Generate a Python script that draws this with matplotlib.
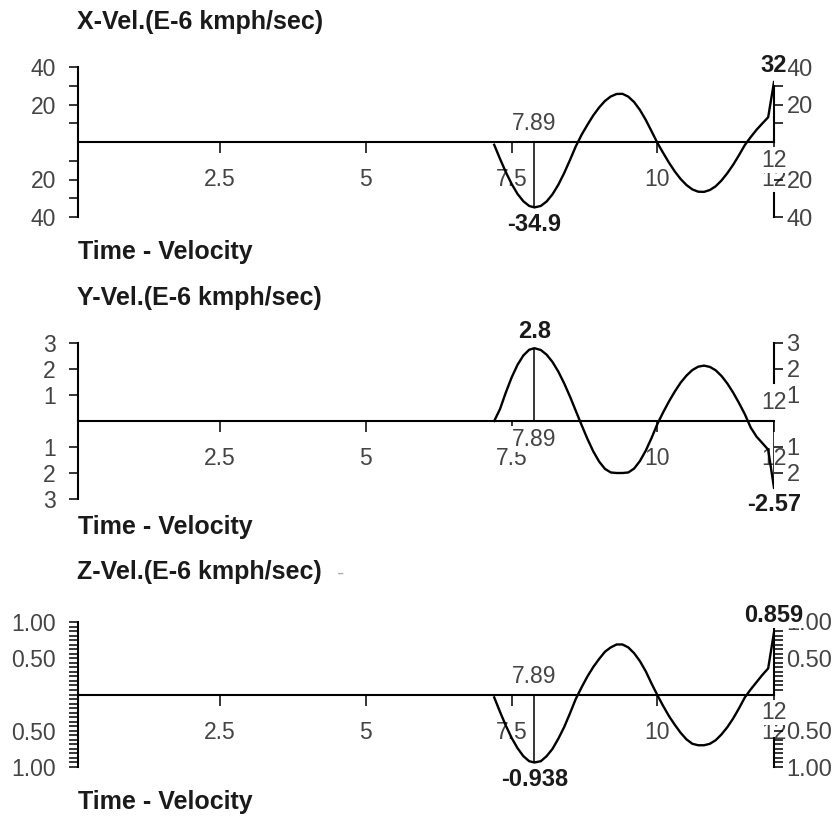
import numpy as np
import matplotlib
matplotlib.use("Agg")
import matplotlib.pyplot as plt
from matplotlib.ticker import FixedLocator

plt.rcParams['font.family'] = ['Liberation Sans', 'DejaVu Sans']

# values (time in s, velocity in E-6 kmph/sec)
TIME = [7.2, 7.3, 7.4, 7.5, 7.6, 7.7, 7.8, 7.89,
        8.0, 8.1, 8.2, 8.3, 8.4, 8.5, 8.6, 8.7, 8.8, 8.9,
        9.0, 9.1, 9.2, 9.3, 9.4, 9.5, 9.6, 9.7, 9.8, 9.9,
        10.0, 10.1, 10.2, 10.3, 10.4, 10.5, 10.6, 10.7, 10.8, 10.9,
        11.0, 11.1, 11.2, 11.3, 11.4, 11.5, 11.6, 11.7, 11.8, 11.9, 12.0]

X_VEL = [-1.5, -9.0, -16.1, -22.4, -27.7, -31.6, -34.1, -34.9,
         -34.1, -31.7, -27.9, -22.8, -16.6, -9.6, -2.3, 3.9, 9.2, 14.2,
         18.4, 21.9, 24.3, 25.6, 25.7, 24.2, 21.3, 17.1, 11.8, 5.7,
         -0.5, -5.9, -11.1, -15.8, -19.8, -23.0, -25.3, -26.5, -26.6, -25.6,
         -23.6, -20.5, -16.6, -12.1, -7.0, -1.6, 2.6, 6.5, 9.9, 13.2, 32.0]

Y_VEL = [0.0, 0.46, 1.10, 1.68, 2.16, 2.52, 2.74, 2.8,
         2.73, 2.55, 2.27, 1.90, 1.45, 0.94, 0.39, -0.16, -0.69, -1.17,
         -1.56, -1.84, -1.98, -2.0, -2.0, -1.98, -1.83, -1.54, -1.14, -0.65,
         -0.11, 0.34, 0.76, 1.14, 1.48, 1.75, 1.96, 2.09, 2.13, 2.08,
         1.95, 1.73, 1.44, 1.09, 0.69, 0.26, -0.25, -0.6, -0.85, -1.1, -2.57]

Z_VEL = [-0.04, -0.24, -0.43, -0.60, -0.74, -0.85, -0.92, -0.938,
         -0.92, -0.85, -0.75, -0.61, -0.45, -0.26, -0.06, 0.10, 0.25, 0.38,
         0.49, 0.59, 0.65, 0.69, 0.69, 0.65, 0.57, 0.46, 0.32, 0.15,
         -0.01, -0.16, -0.30, -0.42, -0.53, -0.62, -0.68, -0.70, -0.70, -0.68,
         -0.63, -0.55, -0.45, -0.33, -0.19, -0.04, 0.07, 0.17, 0.27, 0.36, 0.859]

SERIES = [X_VEL, Y_VEL, Z_VEL]
TITLES = ["X-Vel.(E-6 kmph/sec)", "Y-Vel.(E-6 kmph/sec)", "Z-Vel.(E-6 kmph/sec)"]
XLABEL = "Time - Velocity"

# marked points: extreme at 7.89 and last sample at 12
MARK_T = [7.89, 12]
MARK_T_LABELS = ["7.89", "12"]
MARK_VALS = [[-34.9, 32], [2.8, -2.57], [-0.938, 0.859]]
MARK_VAL_LABELS = [["-34.9", "32"], ["2.8", "-2.57"], ["-0.938", "0.859"]]

X_TICKS = [2.5, 5, 7.5, 10, 12]
X_TICKLABELS = ["2.5", "5", "7.5", "10", "12"]

Y_MAX = [40, 3, 1.0]
LEFT_TICKS = [[40, 20, -20, -40], [3, 2, 1, -1, -2, -3], [1.0, 0.5, -0.5, -1.0]]
LEFT_LABELS = [["40", "20", "20", "40"], ["3", "2", "1", "1", "2", "3"],
               ["1.00", "0.50", "0.50", "1.00"]]
LEFT_MINOR = [[30, 10, -10, -30], [], list(np.arange(-1, 1.001, 0.0625))]

RIGHT_TICKS = [[40, 20, -20, -40], [3, 2, 1, -1, -2], [1.0, 0.5, -0.5, -1.0]]
RIGHT_LABELS = [["40", "20", "20", "40"], ["3", "2", "1", "1", "2"],
                ["1.00", "0.50", "0.50", "1.00"]]
RIGHT_MINOR = [[30, 10], [],
               list(np.arange(0.0625, 0.95, 0.0625)) + list(np.arange(-0.625, -0.99, -0.0625))]
RIGHT_SPINE_UP = [(0, 30), (1.45, 3), (0, 0.95)]
RIGHT_SPINE_LOW = [(-40, -27), None, (-1.0, -0.6)]

# layout in pixels
W, H = 832, 819
AX_LEFT, AX_RIGHT = 78, 774
PANEL_TOP = [67, 343, 622]
PANEL_BOTTOM = [217, 499, 767]
TITLE_Y = [22, 298, 572]
XLABEL_Y = [252, 527, 802]

GRAY = "#444444"
DARK = "#1a1a1a"

fig = plt.figure(figsize=(W / 100, H / 100), dpi=100)

for i in range(3):
    top, bottom = PANEL_TOP[i], PANEL_BOTTOM[i]
    rect = [AX_LEFT / W, 1 - bottom / H, (AX_RIGHT - AX_LEFT) / W, (bottom - top) / H]
    ax = fig.add_axes(rect)
    ax.set_xlim(0.06, 12)
    ax.set_ylim(-Y_MAX[i], Y_MAX[i])
    ax.patch.set_visible(False)

    for side in ("top", "right"):
        ax.spines[side].set_visible(False)
    ax.spines["bottom"].set_position(("data", 0))
    ax.spines["bottom"].set_linewidth(1.5)
    ax.spines["left"].set_linewidth(1.5)

    ax.set_xticks(X_TICKS, X_TICKLABELS)
    ax.set_yticks(LEFT_TICKS[i], LEFT_LABELS[i])
    ax.yaxis.set_minor_locator(FixedLocator(LEFT_MINOR[i]))
    ax.tick_params(axis="x", direction="out", length=8, width=1.1, pad=11,
                   labelsize=16.5, labelcolor=GRAY)
    ax.tick_params(axis="y", which="both", direction="out", length=6.5, width=1.1,
                   pad=9.5, labelsize=16.5, labelcolor=GRAY)

    ax.plot(TIME, SERIES[i], color="black", lw=1.7, zorder=4)

    # right hand axis, drawn in pieces like the original
    if RIGHT_SPINE_LOW[i] is not None:
        ax_low = ax.twinx()
        ax_low.set_ylim(ax.get_ylim())
        ax_low.set_yticks([])
        for side in ("top", "left", "bottom"):
            ax_low.spines[side].set_visible(False)
        ax_low.spines["right"].set_bounds(*RIGHT_SPINE_LOW[i])
        ax_low.spines["right"].set_linewidth(1.5)

    ax_r = ax.twinx()
    ax_r.set_ylim(ax.get_ylim())
    for side in ("top", "left", "bottom"):
        ax_r.spines[side].set_visible(False)
    ax_r.spines["right"].set_bounds(*RIGHT_SPINE_UP[i])
    ax_r.spines["right"].set_linewidth(1.5)
    ax_r.set_yticks(RIGHT_TICKS[i], RIGHT_LABELS[i])
    ax_r.yaxis.set_minor_locator(FixedLocator(RIGHT_MINOR[i]))
    ax_r.tick_params(axis="y", which="both", direction="out", length=6.5, width=1.1,
                     pad=2.5, labelsize=17, labelcolor=GRAY)

    # marker lines + value / time labels
    for t, t_lab, v, v_lab in zip(MARK_T, MARK_T_LABELS, MARK_VALS[i], MARK_VAL_LABELS[i]):
        ax.vlines(t, 0, v, color="black", lw=1.1, zorder=3)
        sgn = 1 if v > 0 else -1
        ax_r.annotate(v_lab, (t, v), xytext=(0, 12 * sgn), textcoords="offset points",
                      ha="center", va="center", fontsize=17, fontweight="bold", color=DARK,
                      annotation_clip=False,
                      bbox=dict(boxstyle="square,pad=0.05", fc="white", ec="none"))
        ax_r.annotate(t_lab, (t, 0), xytext=(0, -13 * sgn), textcoords="offset points",
                      ha="center", va="center", fontsize=16.5, color=GRAY,
                      annotation_clip=False,
                      bbox=dict(boxstyle="square,pad=0.05", fc="white", ec="none"))

    fig.text(77 / W, 1 - TITLE_Y[i] / H, TITLES[i], ha="left", va="center",
             fontsize=18, fontweight="bold", color=DARK)
    fig.text(78 / W, 1 - XLABEL_Y[i] / H, XLABEL, ha="left", va="center",
             fontsize=18, fontweight="bold", color=DARK)

fig.text(337 / W, 1 - 574 / H, "-", ha="left", va="center", fontsize=16, color="#b0b0b0")

fig.savefig("out.png", dpi=100)
